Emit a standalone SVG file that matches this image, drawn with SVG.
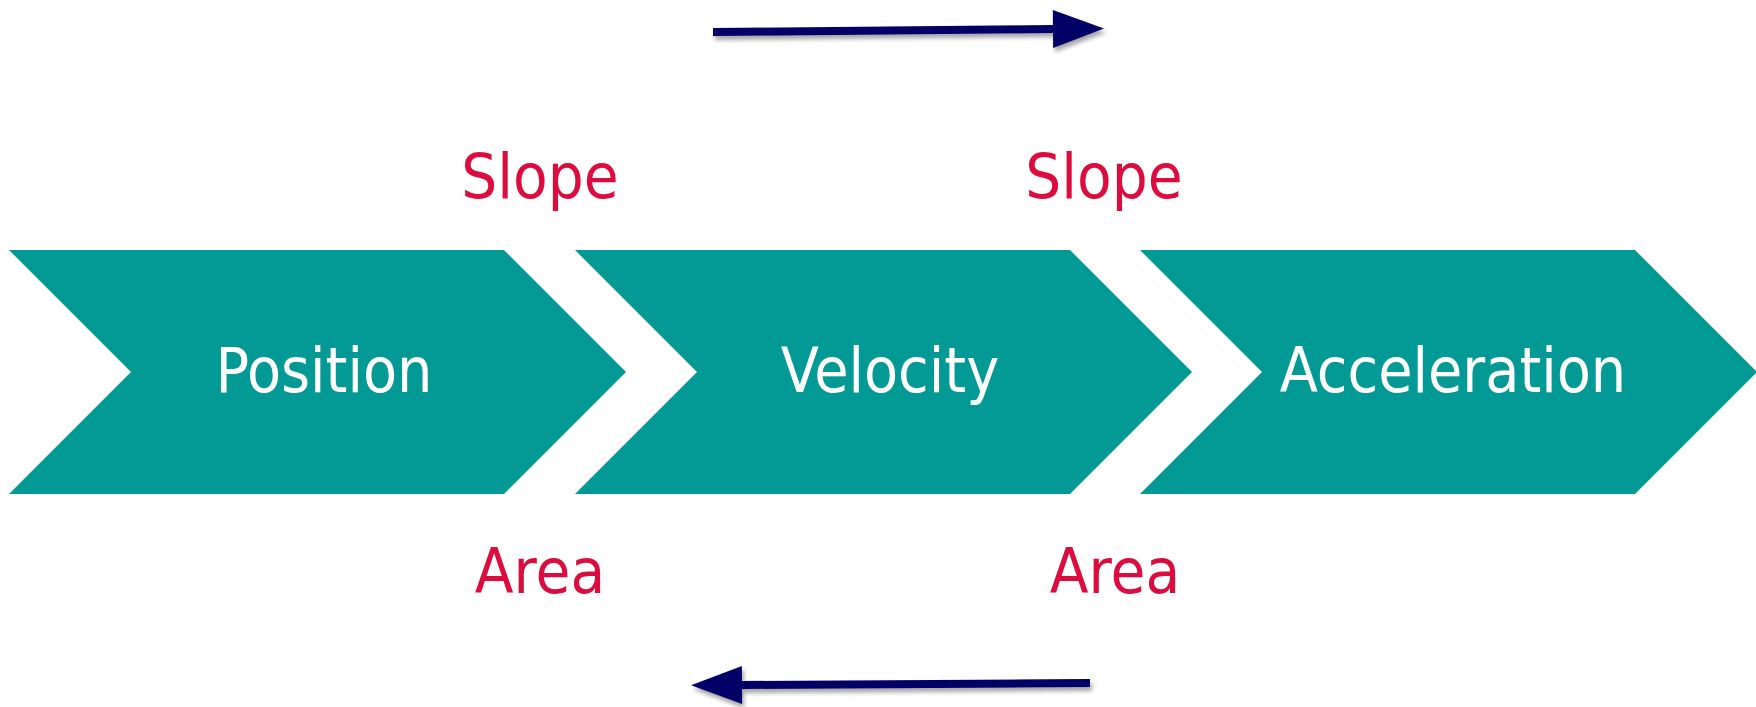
<svg xmlns="http://www.w3.org/2000/svg" width="1756" height="707" viewBox="0 0 1756 707">
  <style>
    .chev { fill: #039A96; }
    .lbl { font-family: "DejaVu Sans Condensed", "DejaVu Sans", sans-serif; font-size: 62px; fill: #FFFFFF; text-anchor: middle; }
    .rel { font-family: "DejaVu Sans Condensed", "DejaVu Sans", sans-serif; font-size: 63px; fill: #DC0D3E; text-anchor: middle; }
    .conn { stroke: #000066; stroke-width: 8; fill: none; marker-end: url(#head); }
  </style>
  <defs>
    <marker id="head" markerUnits="userSpaceOnUse" markerWidth="52" markerHeight="38" refX="0" refY="19" orient="auto" overflow="visible">
      <path d="M0,0 L51,19 L0,38 Z" fill="#000066"/>
    </marker>
    <filter id="shadow" x="-10%" y="-50%" width="120%" height="200%">
      <feDropShadow dx="2" dy="4" stdDeviation="2" flood-color="#000" flood-opacity="0.35"/>
    </filter>
  </defs>

  <g id="position">
    <polygon class="chev" points="9,250 504,250 626,372 504,494 9,494 131,372"/>
    <text class="lbl" x="324" y="392">Position</text>
  </g>
  <g id="velocity">
    <polygon class="chev" points="575,250 1070,250 1192,372 1070,494 575,494 697,372"/>
    <text class="lbl" x="890" y="392">Velocity</text>
  </g>
  <g id="acceleration">
    <polygon class="chev" points="1140,250 1635,250 1757,372 1635,494 1140,494 1262,372"/>
    <text class="lbl" x="1453" y="392">Acceleration</text>
  </g>

  <g id="labels">
    <text class="rel" x="540" y="198">Slope</text>
    <text class="rel" x="1104" y="198">Slope</text>
    <text class="rel" x="540" y="593">Area</text>
    <text class="rel" x="1115" y="593">Area</text>
  </g>

  <g id="connectors" filter="url(#shadow)">
    <path class="conn" d="M713,32 L1053,29"/>
    <path class="conn" d="M1090,683 L742,685"/>
  </g>
</svg>
